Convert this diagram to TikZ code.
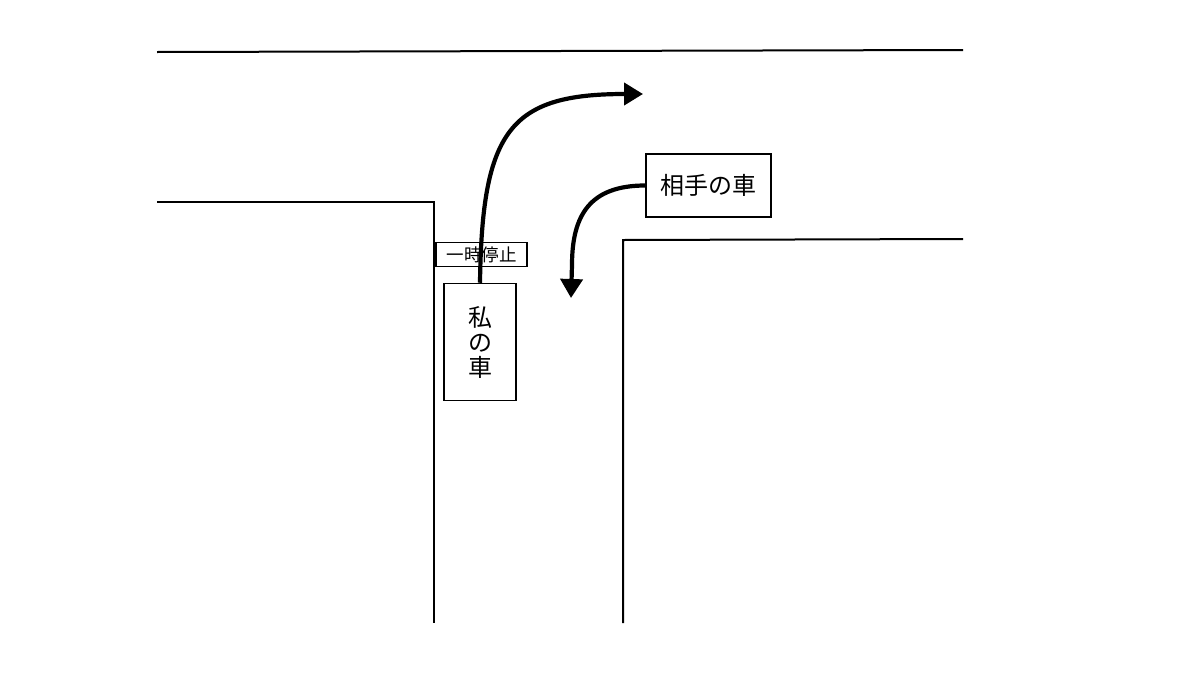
\documentclass[tikz,border=0pt]{standalone}
\usepackage{fontspec}
\newfontfamily\jp{Noto Sans CJK JP}
\usetikzlibrary{arrows.meta}
\begin{document}
\begin{tikzpicture}[x=1pt,y=-1pt,
  road/.style={line width=2pt},
  box/.style={draw,line width=1.5pt,rectangle,inner sep=0pt,font=\jp},
  move/.style={line width=4.2pt,-{Triangle[length=19pt,width=22pt]}}]
\useasboundingbox (0,0) rectangle (1199,675);
\fill[white] (0,0) rectangle (1199,675);
% roads
\draw[road] (157,52) -- (963,50);
\draw[road] (157,202) -- (434,202) -- (434,623);
\draw[road] (623,623) -- (623,240) -- (963,239);
% nodes
\node[box,minimum width=91pt,minimum height=24pt,font=\jp\fontsize{17.5}{17.5}\selectfont] (stop) at (481.5,254.5) {一時停止};
\node[box,fill=white,minimum width=72pt,minimum height=117pt,align=center,font=\jp\fontsize{24}{25}\selectfont] (me) at (480,342) {私\\の\\車};
\node[box,minimum width=125pt,minimum height=63pt,font=\jp\fontsize{24}{24}\selectfont] (other) at (708.5,185.5) {相手の車};
\coordinate (tip1) at (643,94);
\coordinate (tip2) at (571,298);
% arrows
\draw[move] (me.north) .. controls (482,130) and (510,94) .. (625,94) -- (tip1);
\draw[move] (other.west) .. controls (590,185.5) and (572,215) .. (572,265) -- (tip2);
\end{tikzpicture}
\end{document}
